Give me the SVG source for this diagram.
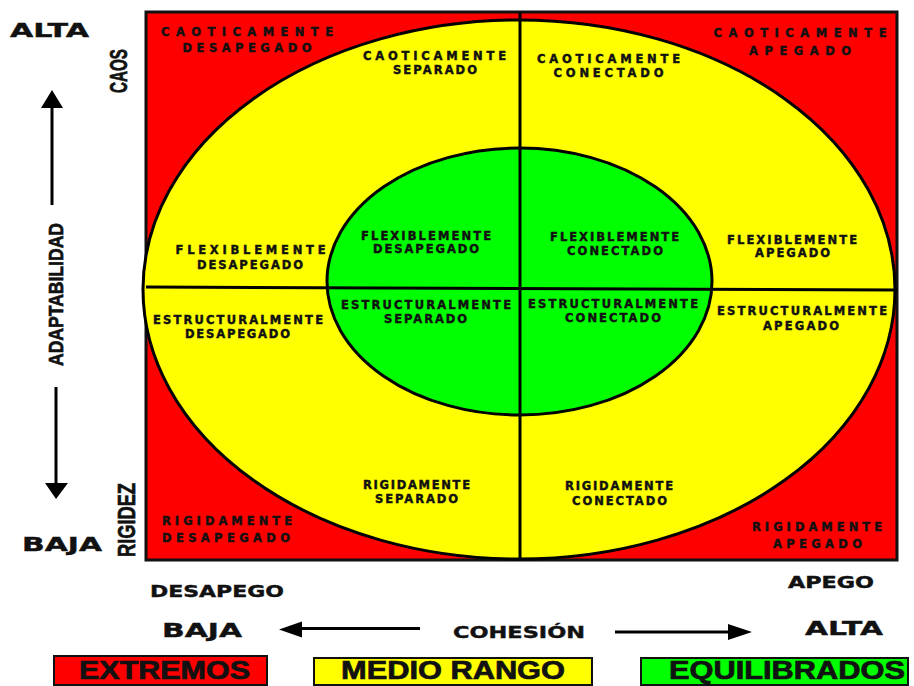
<svg xmlns="http://www.w3.org/2000/svg" width="914" height="686" viewBox="0 0 914 686">
<style>
.t{font-family:"DejaVu Sans","Liberation Sans",sans-serif;font-weight:bold;font-size:11.5px;text-anchor:middle;fill:#111;stroke:#111;stroke-width:0.45}
.big{font-family:"DejaVu Sans","Liberation Sans",sans-serif;font-weight:bold;text-anchor:middle;fill:#111;stroke:#111;stroke-width:0.4}
.nar{font-family:"Liberation Sans Narrow","Liberation Sans",sans-serif;font-weight:bold;text-anchor:middle;fill:#111;stroke:#111;stroke-width:0.7}
.ln{stroke:#000;stroke-width:3;fill:none}
.ar{fill:#000}
.leg{stroke:#111;stroke-width:2}
</style>
<rect width="914" height="686" fill="#fff"/>
<g id="extremos-zona">
<rect x="146" y="12" width="751" height="548" fill="#ff0000" stroke="#111" stroke-width="3"/>
</g>
<g id="medio-rango-zona">
<ellipse cx="519" cy="289.5" rx="376" ry="269.5" fill="#ffff00" stroke="#000" stroke-width="3"/>
</g>
<g id="equilibrados-zona">
<ellipse cx="519.5" cy="281.5" rx="192.5" ry="133.5" fill="#00ff00" stroke="#000" stroke-width="3"/>
</g>
<g id="ejes">
<line class="ln" x1="520" y1="12" x2="520" y2="560" stroke-width="2.5"/>
<line class="ln" x1="146" y1="287" x2="897" y2="290" stroke-width="2.5"/>
</g>

<g id="caoticamente-desapegado">
<text class="t" x="247" y="36" textLength="172" lengthAdjust="spacing">CAOTICAMENTE</text>
<text class="t" x="247" y="52" textLength="129" lengthAdjust="spacing">DESAPEGADO</text>
</g>
<g id="caoticamente-apegado">
<text class="t" x="800" y="37" textLength="173" lengthAdjust="spacing">CAOTICAMENTE</text>
<text class="t" x="800" y="55" textLength="102" lengthAdjust="spacing">APEGADO</text>
</g>
<g id="caoticamente-separado">
<text class="t" x="434.5" y="60" textLength="143" lengthAdjust="spacing">CAOTICAMENTE</text>
<text class="t" x="435" y="74" textLength="84" lengthAdjust="spacing">SEPARADO</text>
</g>
<g id="caoticamente-conectado">
<text class="t" x="608.5" y="63" textLength="143" lengthAdjust="spacing">CAOTICAMENTE</text>
<text class="t" x="608.5" y="77" textLength="110" lengthAdjust="spacing">CONECTADO</text>
</g>
<g id="flexiblemente-desapegado-medio">
<text class="t" x="250.5" y="254" textLength="150" lengthAdjust="spacing">FLEXIBLEMENTE</text>
<text class="t" x="250" y="269" textLength="106" lengthAdjust="spacing">DESAPEGADO</text>
</g>
<g id="estructuralmente-desapegado">
<text class="t" x="238" y="324" textLength="170" lengthAdjust="spacing">ESTRUCTURALMENTE</text>
<text class="t" x="237.5" y="338" textLength="105" lengthAdjust="spacing">DESAPEGADO</text>
</g>
<g id="flexiblemente-apegado">
<text class="t" x="792" y="244" textLength="130" lengthAdjust="spacing">FLEXIBLEMENTE</text>
<text class="t" x="792.5" y="257" textLength="75" lengthAdjust="spacing">APEGADO</text>
</g>
<g id="estructuralmente-apegado">
<text class="t" x="802" y="315" textLength="170" lengthAdjust="spacing">ESTRUCTURALMENTE</text>
<text class="t" x="801" y="330" textLength="76" lengthAdjust="spacing">APEGADO</text>
</g>
<g id="rigidamente-separado">
<text class="t" x="416.5" y="489" textLength="107" lengthAdjust="spacing">RIGIDAMENTE</text>
<text class="t" x="416.5" y="503" textLength="83" lengthAdjust="spacing">SEPARADO</text>
</g>
<g id="rigidamente-conectado">
<text class="t" x="619" y="490" textLength="108" lengthAdjust="spacing">RIGIDAMENTE</text>
<text class="t" x="619.5" y="505" textLength="95" lengthAdjust="spacing">CONECTADO</text>
</g>
<g id="rigidamente-desapegado">
<text class="t" x="227" y="525" textLength="130" lengthAdjust="spacing">RIGIDAMENTE</text>
<text class="t" x="226" y="542" textLength="128" lengthAdjust="spacing">DESAPEGADO</text>
</g>
<g id="rigidamente-apegado">
<text class="t" x="817" y="531" textLength="130" lengthAdjust="spacing">RIGIDAMENTE</text>
<text class="t" x="817.5" y="548" textLength="89" lengthAdjust="spacing">APEGADO</text>
</g>
<g id="flexiblemente-desapegado">
<text class="t" x="426" y="240" textLength="130" lengthAdjust="spacing">FLEXIBLEMENTE</text>
<text class="t" x="426" y="253" textLength="106" lengthAdjust="spacing">DESAPEGADO</text>
</g>
<g id="flexiblemente-conectado">
<text class="t" x="614.5" y="241" textLength="129" lengthAdjust="spacing">FLEXIBLEMENTE</text>
<text class="t" x="615" y="255" textLength="96" lengthAdjust="spacing">CONECTADO</text>
</g>
<g id="estructuralmente-separado">
<text class="t" x="426" y="309" textLength="170" lengthAdjust="spacing">ESTRUCTURALMENTE</text>
<text class="t" x="425.5" y="323" textLength="83" lengthAdjust="spacing">SEPARADO</text>
</g>
<g id="estructuralmente-conectado">
<text class="t" x="613" y="308" textLength="170" lengthAdjust="spacing">ESTRUCTURALMENTE</text>
<text class="t" x="613" y="322" textLength="96" lengthAdjust="spacing">CONECTADO</text>
</g>

<g id="eje-adaptabilidad">
<text class="big" x="49.5" y="37" font-size="19" textLength="79" lengthAdjust="spacingAndGlyphs">ALTA</text>
<text class="big" x="62" y="551" font-size="19" textLength="80" lengthAdjust="spacingAndGlyphs">BAJA</text>
<text class="nar" font-size="24" transform="translate(127,71) rotate(-90)" textLength="44" lengthAdjust="spacingAndGlyphs">CAOS</text>
<text class="nar" font-size="21" transform="translate(63,294.5) rotate(-90)" textLength="143" lengthAdjust="spacingAndGlyphs">ADAPTABILIDAD</text>
<text class="nar" font-size="24" transform="translate(135,520) rotate(-90)" textLength="74" lengthAdjust="spacingAndGlyphs">RIGIDEZ</text>
</g>
<g id="eje-cohesion">
<text class="big" x="217" y="597" font-size="16" textLength="134" lengthAdjust="spacingAndGlyphs">DESAPEGO</text>
<text class="big" x="202" y="637" font-size="20" textLength="80" lengthAdjust="spacingAndGlyphs">BAJA</text>
<text class="big" x="519" y="638" font-size="16" textLength="132" lengthAdjust="spacingAndGlyphs">COHESIÓN</text>
<text class="big" x="831" y="588" font-size="15" textLength="86" lengthAdjust="spacingAndGlyphs">APEGO</text>
<text class="big" x="844" y="635" font-size="20" textLength="78" lengthAdjust="spacingAndGlyphs">ALTA</text>
</g>

<g id="conectores">
<line class="ln" x1="52" y1="106" x2="52" y2="205"/>
<polygon class="ar" points="52,90 41,108 63,108"/>
<line class="ln" x1="56" y1="387" x2="56" y2="485"/>
<polygon class="ar" points="56,499 45,483 68,483"/>
<line class="ln" x1="300" y1="628.5" x2="420" y2="628.5"/>
<polygon class="ar" points="279,629.5 302,621.5 302,637.5"/>
<line class="ln" x1="615" y1="632" x2="730" y2="632"/>
<polygon class="ar" points="752,632 728,624 728,640"/>
</g>

<g id="leyenda-extremos">
<rect class="leg" x="54" y="656" width="213" height="29" fill="#ff0000"/>
<text class="nar" x="164.5" y="679" font-size="25" textLength="171" lengthAdjust="spacingAndGlyphs">EXTREMOS</text>
</g>
<g id="leyenda-medio-rango">
<rect class="leg" x="314" y="658" width="278" height="27" fill="#ffff00"/>
<text class="nar" x="453" y="679" font-size="25" textLength="224" lengthAdjust="spacingAndGlyphs">MEDIO RANGO</text>
</g>
<g id="leyenda-equilibrados">
<rect class="leg" x="641" y="658" width="267" height="27" fill="#00ff00"/>
<text class="nar" x="787" y="679" font-size="25" textLength="236" lengthAdjust="spacingAndGlyphs">EQUILIBRADOS</text>
</g>
</svg>
